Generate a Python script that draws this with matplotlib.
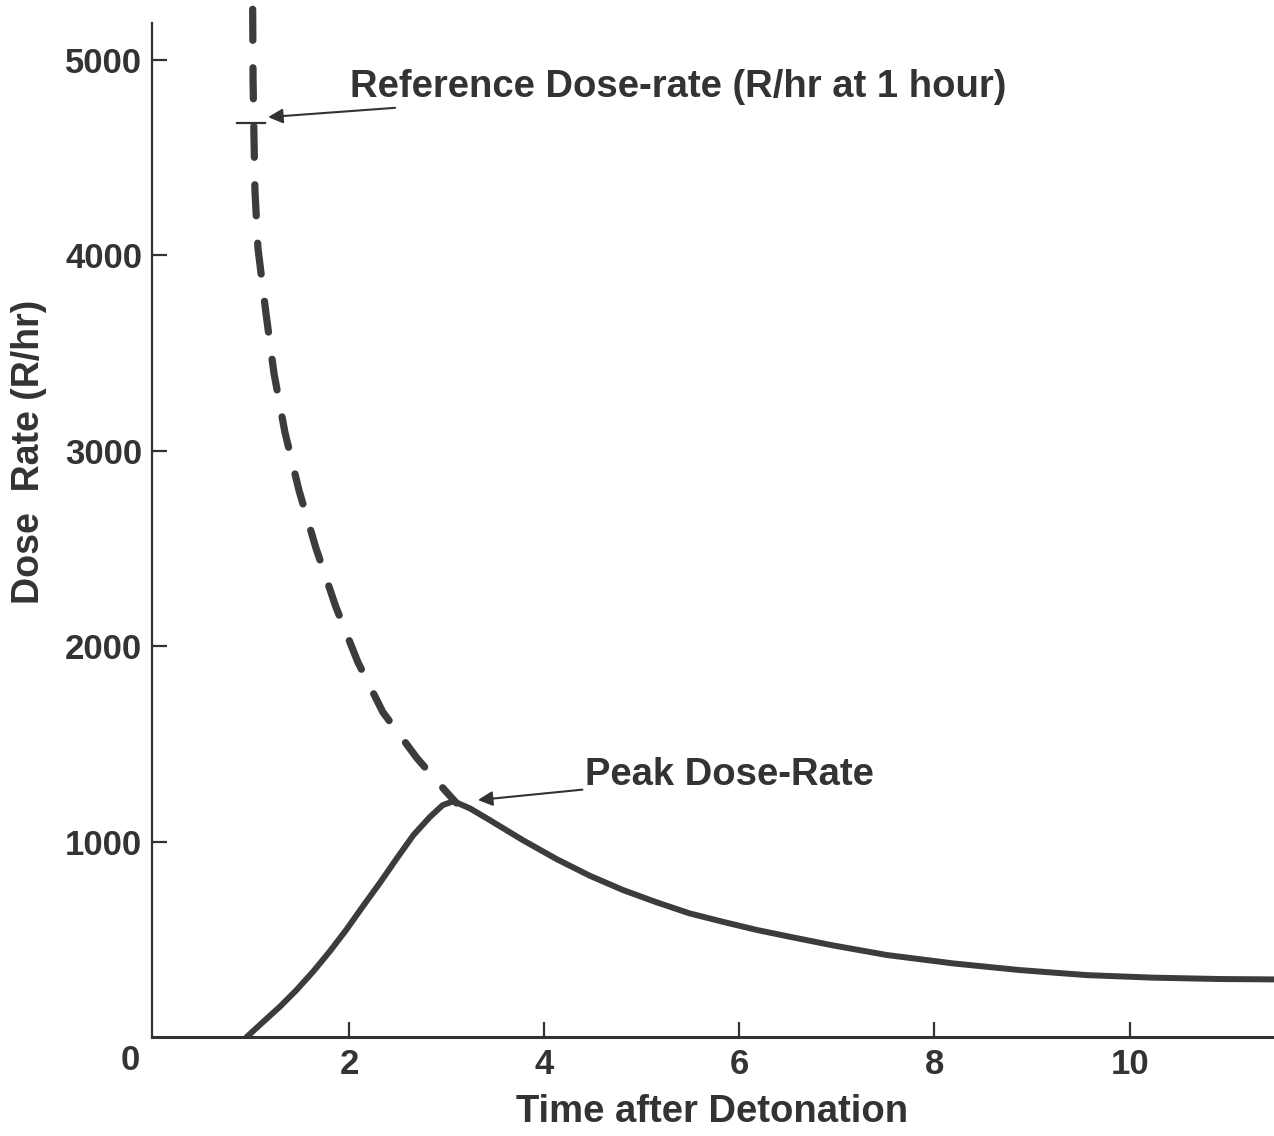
import matplotlib
matplotlib.use("Agg")
import matplotlib.pyplot as plt

# reference dose-rate curve (dashed), t in hours, R/hr
ref_t = [1.012, 1.016, 1.025, 1.035, 1.066, 1.148, 1.23, 1.342, 1.486, 1.66,
         1.865, 2.09, 2.346, 2.695, 2.98, 3.10]
ref_rate = [5260, 4898, 4616, 4335, 4038, 3705, 3398, 3096, 2799, 2503,
            2201, 1919, 1663, 1428, 1264, 1198]

# actual dose-rate curve (solid)
dose_t = [0.95, 1.12, 1.29, 1.46, 1.63, 1.80, 1.97, 2.14, 2.32, 2.49, 2.66,
          2.83, 2.96, 3.07, 3.24, 3.44, 3.78, 4.13, 4.47, 4.81, 5.15, 5.49,
          5.83, 6.18, 6.52, 6.96, 7.51, 8.19, 8.87, 9.56, 10.24, 10.92, 11.48]
dose_rate = [0, 78, 155, 240, 334, 437, 548, 668, 792, 915, 1034,
             1127, 1187, 1207, 1170, 1111, 1008, 910, 825, 752, 690, 633,
             590, 548, 513, 469, 420, 377, 343, 317, 304, 297, 295]

# little mark on the dashed line at the 1 hour reference value
ref_mark_t = [0.85, 1.14]
ref_mark_rate = [4680, 4680]

x_ticks = [2, 4, 6, 8, 10]
y_ticks = [1000, 2000, 3000, 4000, 5000]

ink = "#333333"
line_col = "#3c3c3c"
plt.rcParams['font.family'] = ['Liberation Sans', 'DejaVu Sans']

fig = plt.figure(figsize=(12.74, 11.36), dpi=100)
ax = fig.add_axes([0.1193, 0.0871, 0.8807, 0.8927])

ax.plot(ref_t, ref_rate, color=line_col, lw=5.2, dashes=(4.3, 3.8),
        dash_capstyle='round', clip_on=False)
ax.plot(dose_t, dose_rate, color=line_col, lw=4.3, solid_capstyle='round',
        solid_joinstyle='round')
ax.plot(ref_mark_t, ref_mark_rate, color=ink, lw=1.6)

ax.set_xlim(-0.02, 11.48)
ax.set_ylim(0, 5190)

for s in ['top', 'right']:
    ax.spines[s].set_visible(False)
ax.spines['left'].set_linewidth(1.6)
ax.spines['bottom'].set_linewidth(2.2)
ax.spines['left'].set_color(ink)
ax.spines['bottom'].set_color(ink)

ax.set_xticks(x_ticks)
ax.set_yticks(y_ticks)
ax.tick_params(direction='in', length=11, width=1.6, colors=ink,
               labelsize=25)
ax.tick_params(axis='x', pad=8)
ax.tick_params(axis='y', pad=7)
for lab in ax.get_xticklabels() + ax.get_yticklabels():
    lab.set_fontweight('bold')
    lab.set_color(ink)

ax.text(-0.24, -35, "0", fontsize=25, fontweight='bold', color=ink,
        ha='center', va='top')

# axis titles placed where the reference has them
fig.text(712 / 1274, 1 - 1112 / 1136, "Time after Detonation", fontsize=27.5,
         fontweight='bold', color=ink, ha='center', va='center')
fig.text(29 / 1274, 1 - 452 / 1136, "Dose  Rate (R/hr)", fontsize=27,
         fontweight='bold', color=ink, ha='center', va='center',
         rotation=90)

arrow = dict(arrowstyle='-|>', lw=1.5, color=ink, mutation_scale=22,
             shrinkA=0, shrinkB=0)
ax.annotate("Reference Dose-rate (R/hr at 1 hour)", xy=(1.17, 4708),
            xytext=(2.01, 4862), fontsize=27.5, fontweight='bold', color=ink,
            ha='left', va='center', arrowprops=arrow)
ax.annotate("Peak Dose-Rate", xy=(3.32, 1213), xytext=(4.42, 1341),
            fontsize=27.5, fontweight='bold', color=ink,
            ha='left', va='center', arrowprops=arrow)

fig.savefig("out.png", dpi=100)
